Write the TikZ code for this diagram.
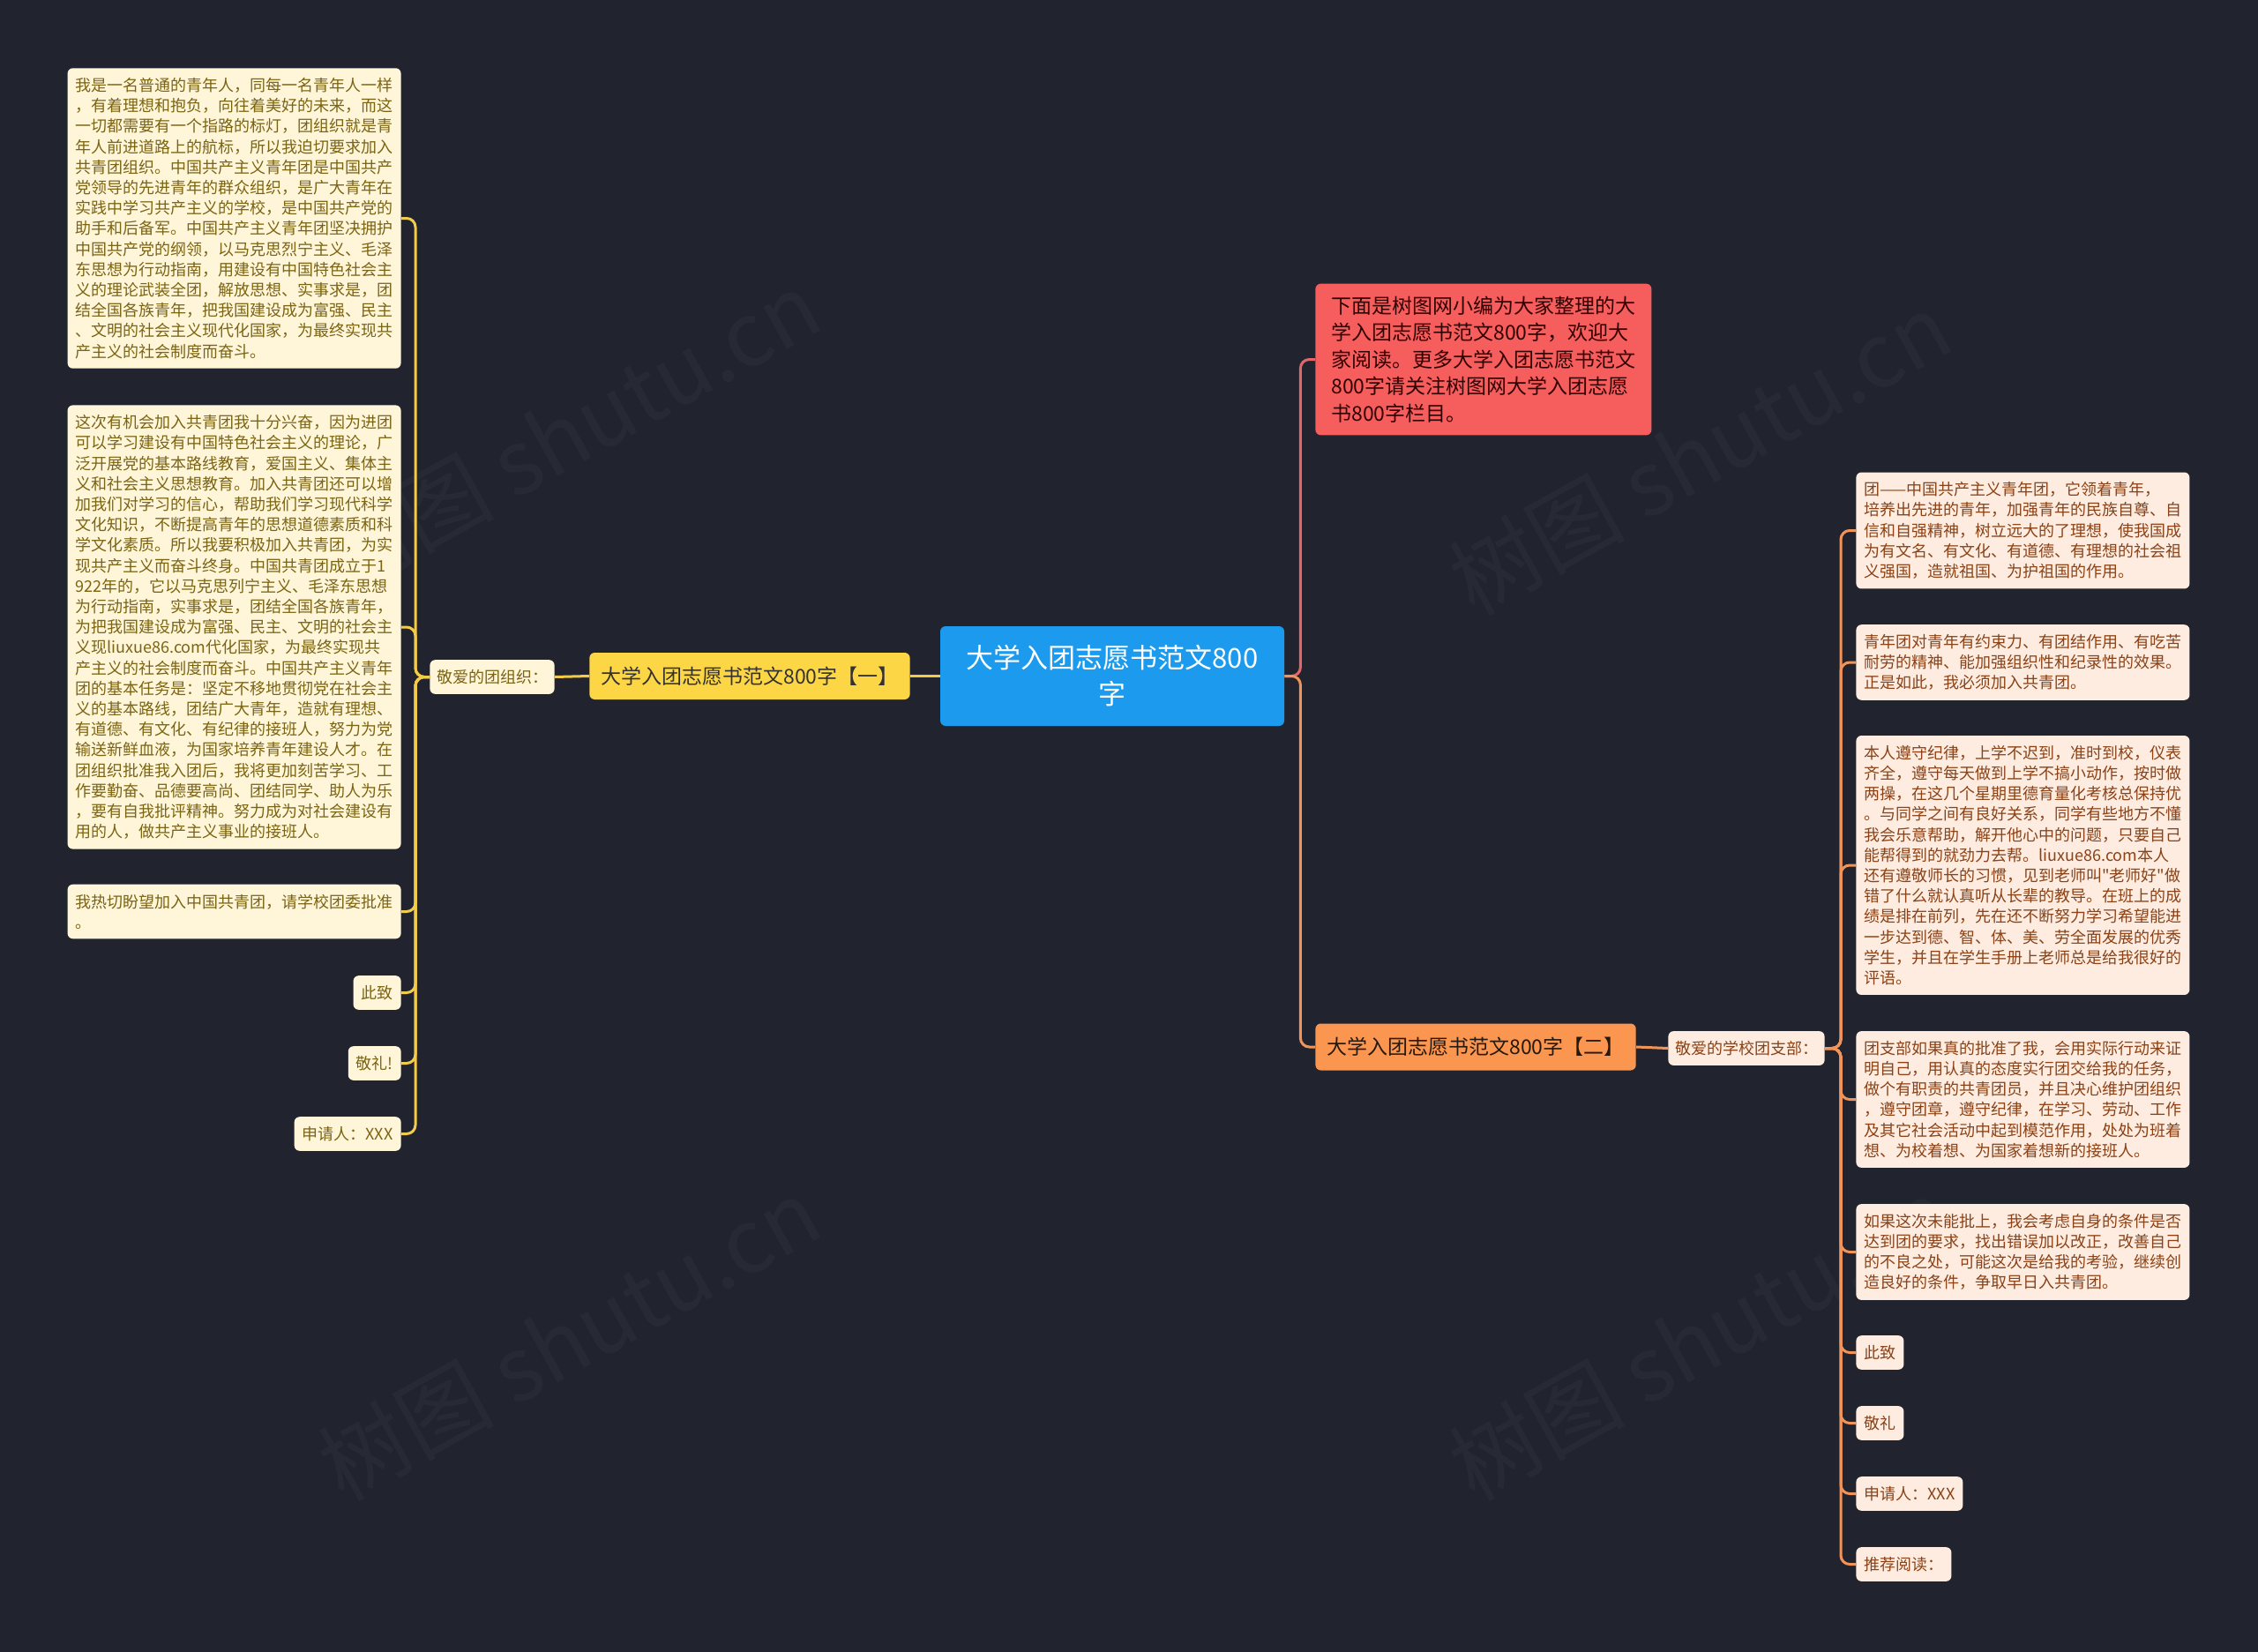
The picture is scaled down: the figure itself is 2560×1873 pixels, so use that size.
\documentclass[tikz,border=0pt]{standalone}
\usepackage{fontspec}
\setmainfont{Noto Sans CJK SC}
\newfontfamily\quotefont{Noto Sans CJK SC}
\usetikzlibrary{positioning}
\definecolor{bgnavy}{HTML}{21242F}
\definecolor{rootblue}{HTML}{1B9AEE}
\definecolor{lineyel}{HTML}{F2CC48}
\definecolor{fillyel}{HTML}{FDD645}
\definecolor{leafyel}{HTML}{FFF6DA}
\definecolor{textyel}{HTML}{7B6412}
\definecolor{linered}{HTML}{E2666A}
\definecolor{fillred}{HTML}{F65D5D}
\definecolor{lineorg}{HTML}{F0945A}
\definecolor{fillorg}{HTML}{FB9650}
\definecolor{leaforg}{HTML}{FEECE1}
\definecolor{textorg}{HTML}{8A4216}
\newcommand{\sq}{{\quotefont"}}
\tikzset{
  base/.style={rounded corners=3pt,inner xsep=4.5pt,inner ysep=5.5pt,font=\fontsize{9}{11.6}\selectfont},
  leafA/.style={base,fill=leafyel,text=textyel},
  leafB/.style={base,fill=leaforg,text=textorg},
  para/.style={text width=180pt,align=left},
  lnA/.style={draw=lineyel,line width=1.5pt,rounded corners=5pt},
  lnR/.style={draw=linered,line width=1.5pt,rounded corners=5pt},
  lnB/.style={draw=lineorg,line width=1.5pt,rounded corners=5pt},
}
\begin{document}
\begin{tikzpicture}[x=0.5pt,y=-0.5pt,
  topic/.style={rounded corners=3pt,inner xsep=6.5pt,minimum height=26.5pt,font=\fontsize{11.5}{14}\selectfont},
  wmark/.style={rotate=29,text=white,opacity=0.03,font=\fontsize{50}{50}\selectfont}]
 \fill[bgnavy] (0,0) rectangle (2560,1873); \useasboundingbox (0,0) rectangle (2560,1873);
 % ---- watermark
 \foreach \x/\y/\n in {645/490/wa,645/1518/wb,1927/514/wc,1927/1518/wd}{\node[wmark] (\n) at (\x,\y){树图 shutu.cn};}
 % ---- root
 \node[fill=rootblue,text=white,rounded corners=3pt,minimum width=195pt,minimum height=56.5pt,align=center,font=\fontsize{15.5}{20.5}\selectfont] (root) at (1261,766.5){大学入团志愿书范文800\\字};
 % ---- branch one
 \node[topic,fill=fillyel,text=black!80,anchor=east] (b1) at (1032,766.5){大学入团志愿书范文800字【一】};
 \node[leafA,inner xsep=3.8pt,anchor=east] (orgA) at (629,767.5){敬爱的团组织：};
 \node[leafA,para,anchor=east] (la1) at (455,247.5){我是一名普通的青年人，同每一名青年人一样\\，有着理想和抱负，向往着美好的未来，而这\\一切都需要有一个指路的标灯，团组织就是青\\年人前进道路上的航标，所以我迫切要求加入\\共青团组织。中国共产主义青年团是中国共产\\党领导的先进青年的群众组织，是广大青年在\\实践中学习共产主义的学校，是中国共产党的\\助手和后备军。中国共产主义青年团坚决拥护\\中国共产党的纲领，以马克思烈宁主义、毛泽\\东思想为行动指南，用建设有中国特色社会主\\义的理论武装全团，解放思想、实事求是，团\\结全国各族青年，把我国建设成为富强、民主\\、文明的社会主义现代化国家，为最终实现共\\产主义的社会制度而奋斗。};
 \node[leafA,para,anchor=east] (la2) at (455,711){这次有机会加入共青团我十分兴奋，因为进团\\可以学习建设有中国特色社会主义的理论，广\\泛开展党的基本路线教育，爱国主义、集体主\\义和社会主义思想教育。加入共青团还可以增\\加我们对学习的信心，帮助我们学习现代科学\\文化知识，不断提高青年的思想道德素质和科\\学文化素质。所以我要积极加入共青团，为实\\现共产主义而奋斗终身。中国共青团成立于1\\922年的，它以马克思列宁主义、毛泽东思想\\为行动指南，实事求是，团结全国各族青年，\\为把我国建设成为富强、民主、文明的社会主\\义现liuxue86.com代化国家，为最终实现共\\产主义的社会制度而奋斗。中国共产主义青年\\团的基本任务是：坚定不移地贯彻党在社会主\\义的基本路线，团结广大青年，造就有理想、\\有道德、有文化、有纪律的接班人，努力为党\\输送新鲜血液，为国家培养青年建设人才。在\\团组织批准我入团后，我将更加刻苦学习、工\\作要勤奋、品德要高尚、团结同学、助人为乐\\，要有自我批评精神。努力成为对社会建设有\\用的人，做共产主义事业的接班人。};
 \node[leafA,para,anchor=east] (la3) at (455,1033.5){我热切盼望加入中国共青团，请学校团委批准\\。};
 \node[leafA,anchor=east] (la4) at (455,1125.5){此致};
 \node[leafA,anchor=east] (la5) at (455,1205.5){敬礼!};
 \node[leafA,anchor=east] (la6) at (455,1285.5){申请人：XXX};
 \draw[lnA] (root.west)--(b1.east); \draw[lnA] (b1.west)--(orgA.east);
 \foreach \c in {la1,la2,la3,la4,la5,la6}{\draw[lnA] (orgA.west)--++(-16,0)|-(\c.east);}
 % ---- intro
 \node[rounded corners=3pt,fill=fillred,text=black!80!red,text width=172.5pt,align=left,inner xsep=9pt,inner ysep=7pt,font=\fontsize{11.5}{15.3}\selectfont,anchor=west] (intro) at (1491,407.5){下面是树图网小编为大家整理的大\\学入团志愿书范文800字，欢迎大\\家阅读。更多大学入团志愿书范文\\800字请关注树图网大学入团志愿\\书800字栏目。};
 \draw[lnR] (root.east)--++(18,0)|-(intro.west);
 % ---- branch two
 \node[topic,fill=fillorg,text=black!80!brown,anchor=west] (b2) at (1491,1187){大学入团志愿书范文800字【二】};
 \draw[lnB] (root.east)--++(18,0)|-(b2.west);
 \node[leafB,inner xsep=3.8pt,anchor=west] (orgB) at (1891,1188.5){敬爱的学校团支部：};
 \draw[lnB] (b2.east)--(orgB.west);
 \node[leafB,para,anchor=west] (rb1) at (2104,601.5){团——中国共产主义青年团，它领着青年，\\培养出先进的青年，加强青年的民族自尊、自\\信和自强精神，树立远大的了理想，使我国成\\为有文名、有文化、有道德、有理想的社会祖\\义强国，造就祖国、为护祖国的作用。};
 \node[leafB,para,anchor=west] (rb2) at (2104,751){青年团对青年有约束力、有团结作用、有吃苦\\耐劳的精神、能加强组织性和纪录性的效果。\\正是如此，我必须加入共青团。};
 \node[leafB,para,anchor=west] (rb3) at (2104,981){本人遵守纪律，上学不迟到，准时到校，仪表\\齐全，遵守每天做到上学不搞小动作，按时做\\两操，在这几个星期里德育量化考核总保持优\\。与同学之间有良好关系，同学有些地方不懂\\我会乐意帮助，解开他心中的问题，只要自己\\能帮得到的就劲力去帮。liuxue86.com本人\\还有遵敬师长的习惯，见到老师叫\sq 老师好\sq 做\\错了什么就认真听从长辈的教导。在班上的成\\绩是排在前列，先在还不断努力学习希望能进\\一步达到德、智、体、美、劳全面发展的优秀\\学生，并且在学生手册上老师总是给我很好的\\评语。};
 \node[leafB,para,anchor=west] (rb4) at (2104,1246.5){团支部如果真的批准了我，会用实际行动来证\\明自己，用认真的态度实行团交给我的任务，\\做个有职责的共青团员，并且决心维护团组织\\，遵守团章，遵守纪律，在学习、劳动、工作\\及其它社会活动中起到模范作用，处处为班着\\想、为校着想、为国家着想新的接班人。};
 \node[leafB,para,anchor=west] (rb5) at (2104,1419.5){如果这次未能批上，我会考虑自身的条件是否\\达到团的要求，找出错误加以改正，改善自己\\的不良之处，可能这次是给我的考验，继续创\\造良好的条件，争取早日入共青团。};
 \node[leafB,anchor=west] (rb6) at (2104,1533.5){此致};
 \node[leafB,anchor=west] (rb7) at (2104,1613.5){敬礼};
 \node[leafB,anchor=west] (rb8) at (2104,1693.5){申请人：XXX};
 \node[leafB,anchor=west] (rb9) at (2104,1773.5){推荐阅读：};
 \foreach \c in {rb1,rb2,rb3,rb4,rb5,rb6,rb7,rb8,rb9}{\draw[lnB] (orgB.east)--++(18,0)|-(\c.west);}
\end{tikzpicture}
\end{document}
